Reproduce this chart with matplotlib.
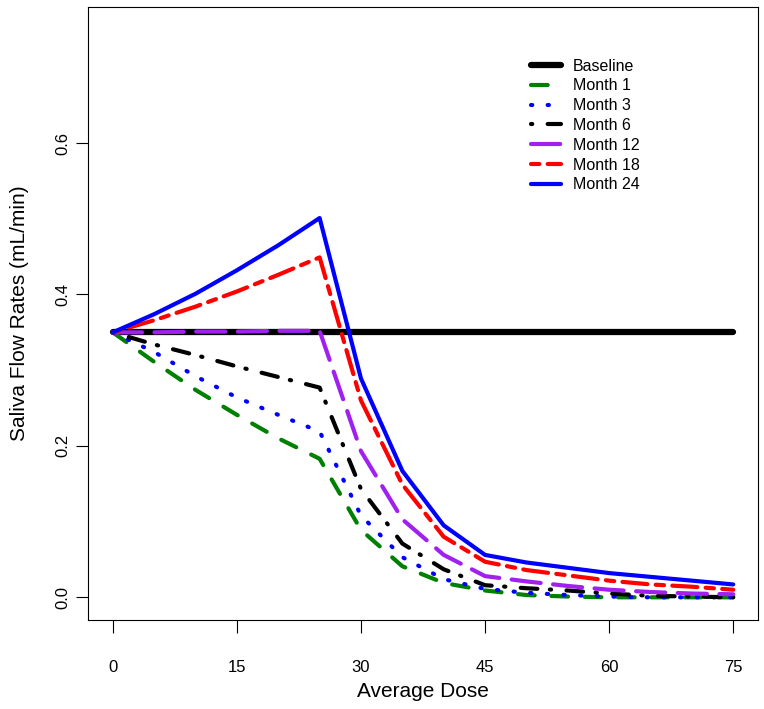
import matplotlib
matplotlib.use("Agg")
import matplotlib.pyplot as plt

plt.rcParams['font.family'] = ['Liberation Sans', 'DejaVu Sans']

# average dose grid
dose = [0, 5, 10, 15, 20, 25, 30, 35, 40, 45, 50, 55, 60, 65, 70, 75]

# saliva flow rates (mL/min)
baseline = [0.35] * len(dose)
month1 = [0.350, 0.311, 0.274, 0.241, 0.210, 0.183, 0.089, 0.041, 0.019, 0.009, 0.003, 0.001, 0.000, 0.000, 0.000, 0.000]
month3 = [0.350, 0.324, 0.292, 0.264, 0.241, 0.219, 0.108, 0.053, 0.024, 0.011, 0.006, 0.003, 0.001, 0.000, 0.000, 0.000]
month6 = [0.350, 0.334, 0.320, 0.305, 0.291, 0.277, 0.143, 0.071, 0.037, 0.016, 0.012, 0.009, 0.005, 0.002, 0.001, 0.000]
month12 = [0.350, 0.350, 0.351, 0.351, 0.352, 0.352, 0.193, 0.103, 0.056, 0.028, 0.021, 0.015, 0.010, 0.007, 0.005, 0.004]
month18 = [0.350, 0.366, 0.384, 0.404, 0.426, 0.449, 0.260, 0.149, 0.080, 0.047, 0.036, 0.029, 0.022, 0.017, 0.014, 0.010]
month24 = [0.350, 0.374, 0.401, 0.432, 0.465, 0.501, 0.289, 0.167, 0.095, 0.056, 0.046, 0.039, 0.032, 0.027, 0.022, 0.017]

labels = ['Baseline', 'Month 1', 'Month 3', 'Month 6', 'Month 12', 'Month 18', 'Month 24']
series = [baseline, month1, month3, month6, month12, month18, month24]
colors = ['black', 'green', 'blue', 'black', '#A020F0', 'red', 'blue']
# R style line types, in units of line width
dashes = [None, (4, 4), (0.3, 3.7), (0.3, 3.7, 4, 3), (7, 3), (2, 2, 6, 2), None]
widths = [4.5, 3.0, 3.0, 3.0, 3.0, 3.0, 3.0]

fig = plt.figure(figsize=(7.64, 7.09), dpi=100)
ax = fig.add_axes([0.1152, 0.1255, 0.877, 0.8649])

for y, lab, c, d, w in zip(series, labels, colors, dashes, widths):
    line, = ax.plot(dose, y, color=c, lw=w, label=lab,
                    solid_capstyle='round', dash_capstyle='round', solid_joinstyle='round')
    if d is not None:
        line.set_dashes(d)

ax.set_xlim(-3, 78)
ax.set_ylim(-0.03, 0.78)
ax.set_xticks([0, 15, 30, 45, 60, 75])
ax.set_yticks([0.0, 0.2, 0.4, 0.6])
ax.set_yticklabels(['0.0', '0.2', '0.4', '0.6'], rotation=90, va='center')
ax.tick_params(direction='out', length=9, width=0.8, labelsize=12)
ax.tick_params(axis='x', pad=20)
ax.tick_params(axis='y', pad=4)
for s in ax.spines.values():
    s.set_linewidth(0.8)

ax.set_xlabel('Average Dose', fontsize=15, labelpad=5)
ax.set_ylabel('Saliva Flow Rates (mL/min)', fontsize=15, labelpad=19)

ax.legend(loc='upper left', bbox_to_anchor=(0.639, 0.939), frameon=False, fontsize=11.5,
          handlelength=1.9, handletextpad=0.75, labelspacing=0.3)

fig.savefig('out.png', dpi=100)
